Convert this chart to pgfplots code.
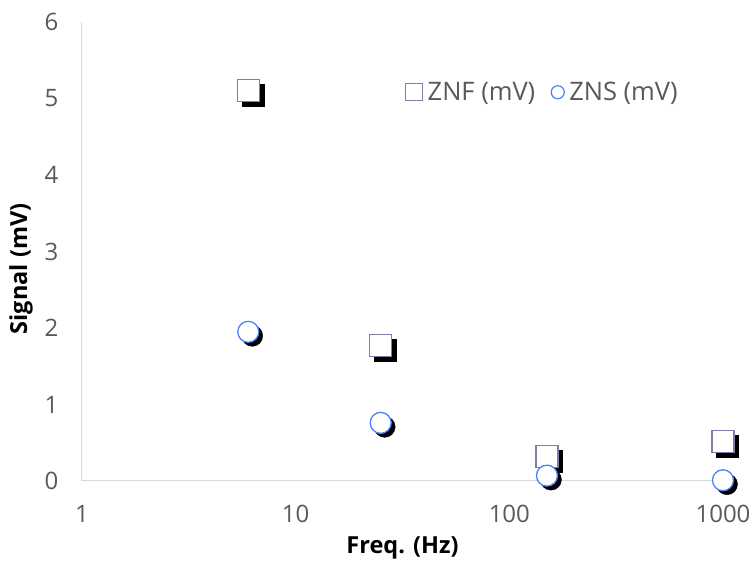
\documentclass[border=0pt]{standalone}
\usepackage{pgfplots}
\pgfplotsset{compat=1.18}
\usepackage{fontspec}
\setmainfont{Open Sans}
\definecolor{sqcol}{RGB}{128,124,170}
\definecolor{circol}{RGB}{77,128,255}
\definecolor{txtcol}{RGB}{89,89,89}
\definecolor{linecol}{RGB}{217,217,217}
\begin{document}
\begin{tikzpicture}
\path[use as bounding box] (-82pt,-84pt) rectangle (671pt,481pt);
\begin{axis}[
  at={(0pt,0pt)}, anchor=south west,
  scale only axis, width=641pt, height=459pt,
  xmode=log, xmin=1, xmax=1000, ymin=0, ymax=6,
  xtick={1,10,100,1000}, xticklabels={1,10,100,1000},
  ytick={0,1,2,3,4,5,6},
  xminorticks=false, minor tick length=0pt,
  major tick length=0pt,
  axis x line*=bottom, axis y line*=left,
  axis line style={draw=linecol, line width=1pt, -},
  /pgf/number format/assume math mode=true,
  tick label style={font=\fontsize{24}{28}\selectfont, text=txtcol},
  xticklabel style={yshift=-21pt},
  yticklabel style={xshift=-20pt},
  xlabel={\textbf{Freq. (Hz)}},
  ylabel={\textbf{Signal (mV)}},
  label style={font=\fontsize{23.5}{28}\selectfont, text=black},
  xlabel style={at={(axis description cs:0.5,-0.146)}, anchor=center},
  ylabel style={at={(axis description cs:-0.095,0.462)}, anchor=center, rotate=0},
  clip=false,
  legend columns=2,
  legend style={draw=none, fill=none, at={(axis description cs:0.50,0.847)}, anchor=west,
    font=\fontsize{25.5}{30}\selectfont, text=txtcol,
    /tikz/every odd column/.append style={column sep=3pt},
    /tikz/every even column/.append style={column sep=14pt}},
]
% shadows
\addplot[only marks, forget plot, mark=square*, mark size=11pt,
  mark options={xshift=4.5pt, yshift=-4.5pt, draw=black, fill=black}]
  coordinates {(6,5.1) (25,1.77) (150,0.32) (1000,0.52)};
\addplot[only marks, forget plot, mark=*, mark size=10.5pt,
  mark options={xshift=4pt, yshift=-4pt, draw=black, fill=black}]
  coordinates {(6,1.95) (25,0.76) (150,0.07) (1000,0.01)};
% main markers
\addplot[only marks, forget plot, mark=square*, mark size=11pt,
  mark options={draw=sqcol, fill=white, line width=1.3pt}]
  coordinates {(6,5.1) (25,1.77) (150,0.32) (1000,0.52)};
\addplot[only marks, forget plot, mark=*, mark size=10.5pt,
  mark options={draw=circol, fill=white, line width=1.3pt}]
  coordinates {(6,1.95) (25,0.76) (150,0.07) (1000,0.01)};
\addlegendimage{only marks, mark=square*, mark size=8.5pt, mark options={draw=sqcol, fill=white, line width=1.2pt}}
\addlegendentry{ZNF (mV)}
\addlegendimage{only marks, mark=*, mark size=6.5pt, mark options={draw=circol, fill=white, line width=1.2pt}}
\addlegendentry{ZNS (mV)}
\end{axis}
\end{tikzpicture}
\end{document}
